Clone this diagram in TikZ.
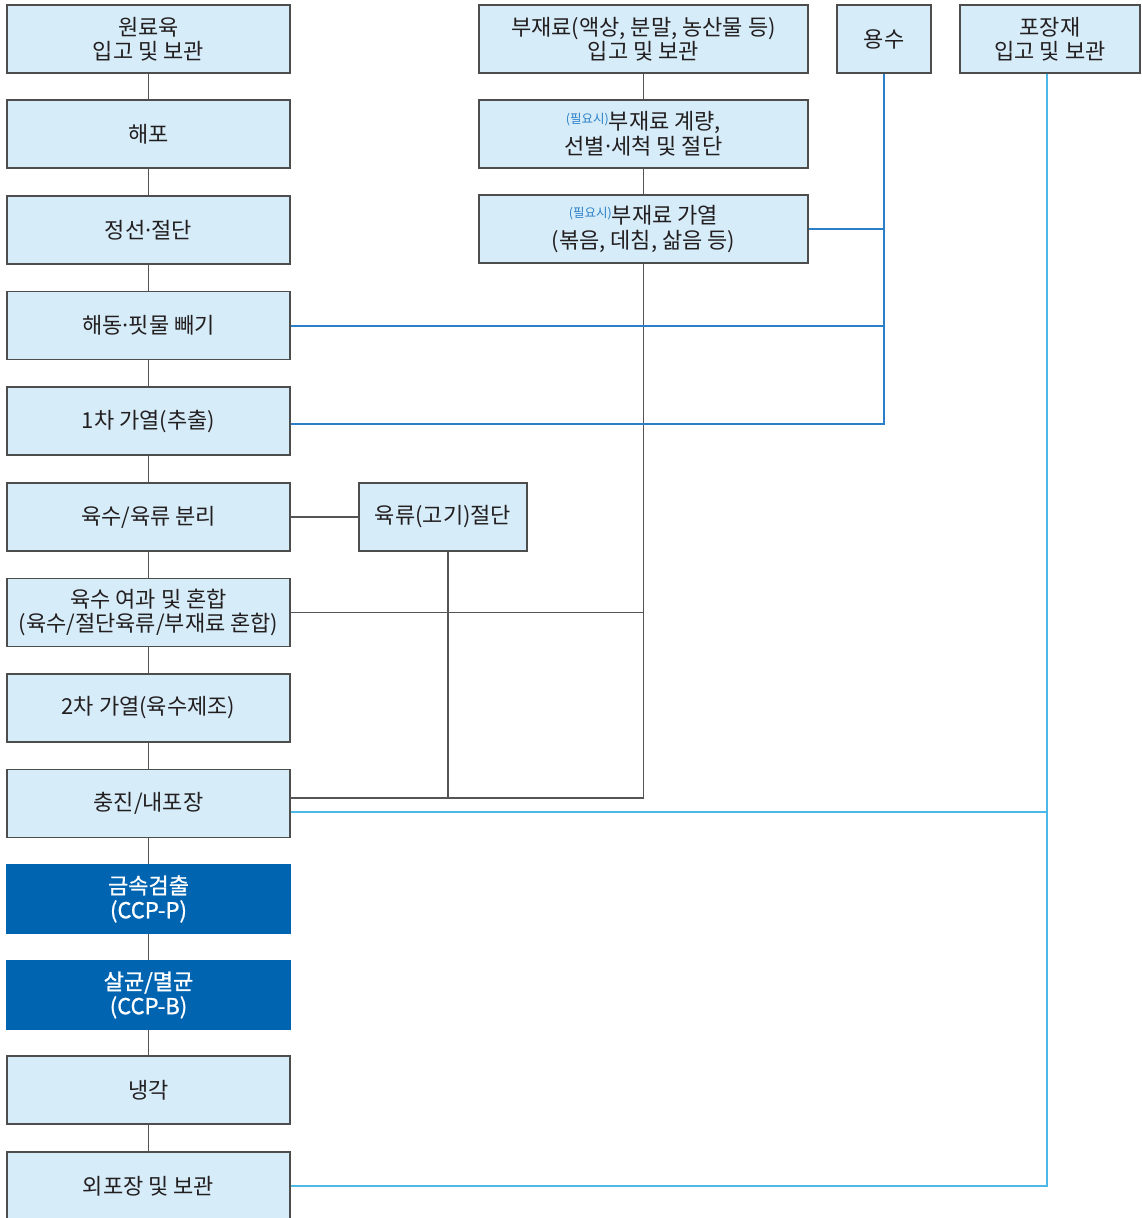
\documentclass[tikz,border=0pt]{standalone}
\usepackage{fontspec}
\setmainfont{Noto Sans CJK KR}
\newfontfamily\medfont[FakeBold=1]{Noto Sans CJK KR}
\definecolor{boxfill}{HTML}{D6ECF9}
\definecolor{boxborder}{HTML}{4D4D4D}
\definecolor{ccpblue}{HTML}{0064B1}
\definecolor{txt}{HTML}{231F20}
\definecolor{linegray}{HTML}{555555}
\definecolor{lineblue}{HTML}{2A7FC8}
\definecolor{linecyan}{HTML}{4CB8E8}
\definecolor{supblue}{HTML}{2A7FC8}
\newcommand{\pilyo}{{\color{supblue}\fontsize{12.5}{12.5}\selectfont\raisebox{6pt}{(필요시)}}}
\newcommand{\mdt}{\kern-0.14em·\kern-0.14em}
\tikzset{
  box/.style={draw=boxborder, fill=boxfill, line width=1.2pt, align=center, inner sep=0pt,
    font=\fontsize{22}{24.5}\selectfont, text=txt},
  lbox/.style={box, minimum width=283pt, minimum height=68pt},
  mbox/.style={box, minimum width=329pt, minimum height=68pt},
  ccp/.style={lbox, fill=ccpblue, draw=ccpblue, text=white, font=\fontsize{22}{24.5}\selectfont\medfont},
  gl/.style={draw=linegray, line width=1.3pt},
  bl/.style={draw=lineblue, line width=2pt},
  cl/.style={draw=linecyan, line width=1.5pt}
}
\begin{document}
\begin{tikzpicture}[x=1pt,y=-1pt]
\clip (0,0) rectangle (1142,1218);
\fill[white] (0,0) rectangle (1142,1218);
% left column
\node[lbox] (n1) at (148.5,39) {원료육\\입고 및 보관};
\node[lbox] (n2) at (148.5,134) {해포};
\node[lbox] (n3) at (148.5,230) {정선\mdt 절단};
\node[lbox] (n4) at (148.5,325.5) {해동\mdt 핏물 빼기};
\node[lbox] (n5) at (148.5,421) {1차 가열(추출)};
\node[lbox] (n6) at (148.5,517) {육수/육류 분리};
\node[lbox] (n7) at (148.5,612.5) {육수 여과 및 혼합\\(육수/절단육류/부재료 혼합)};
\node[lbox] (n8) at (148.5,708) {2차 가열(육수제조)};
\node[lbox] (n9) at (148.5,803.5) {충진/내포장};
\node[ccp] (n10) at (148.5,899) {금속검출\\(CCP-P)};
\node[ccp] (n11) at (148.5,995) {살균/멸균\\(CCP-B)};
\node[lbox] (n12) at (148.5,1090) {냉각};
\node[lbox] (n13) at (148.5,1186) {외포장 및 보관};
% middle column
\node[mbox] (a) at (643.5,39) {부재료(액상, 분말, 농산물 등)\\입고 및 보관};
\node[mbox] (b) at (643.5,134) {\pilyo 부재료 계량,\\선별\mdt 세척 및 절단};
\node[mbox] (c) at (643.5,229) {\pilyo 부재료 가열\\(볶음, 데침, 삶음 등)};
% others
\node[box, minimum width=94pt, minimum height=68pt] (water) at (884,39) {용수};
\node[box, minimum width=180pt, minimum height=68pt] (pack) at (1050,39) {포장재\\입고 및 보관};
\node[box, minimum width=168pt, minimum height=68pt] (meat) at (443,517) {육류(고기)절단};
% coordinates
\coordinate (px) at (1047,0);
\coordinate (mx) at (448,0);
\coordinate (jg) at (0,798);
\coordinate (jc) at (0,812);
\coordinate (jw) at (0,424);
% left column connectors
\foreach \u/\v in {n1/n2,n2/n3,n3/n4,n4/n5,n5/n6,n6/n7,n7/n8,n8/n9,n9/n10,n10/n11,n11/n12,n12/n13}
  \draw[gl] (\u) -- (\v);
% middle column connectors
\draw[gl] (a) -- (b);
\draw[gl] (b) -- (c);
\draw[gl] (c.south) -- (c.south |- jg) -- (n9.east |- jg);
\draw[gl] (n7.east) -- (n7.east -| c.south);
\draw[gl] (n6) -- (meat);
\draw[gl] (mx |- meat.south) -- (mx |- jg);
% water
\draw[bl] (water.south) -- (water.south |- jw) -- (n5.east |- jw);
\draw[bl] (n4.east) -- (n4.east -| water.south);
\draw[bl] (c.east) -- (c.east -| water.south);
% packaging
\draw[cl] (px |- pack.south) -- (px |- n13.east) -- (n13.east);
\draw[cl] (n9.east |- jc) -- (px |- jc);
\end{tikzpicture}
\end{document}
